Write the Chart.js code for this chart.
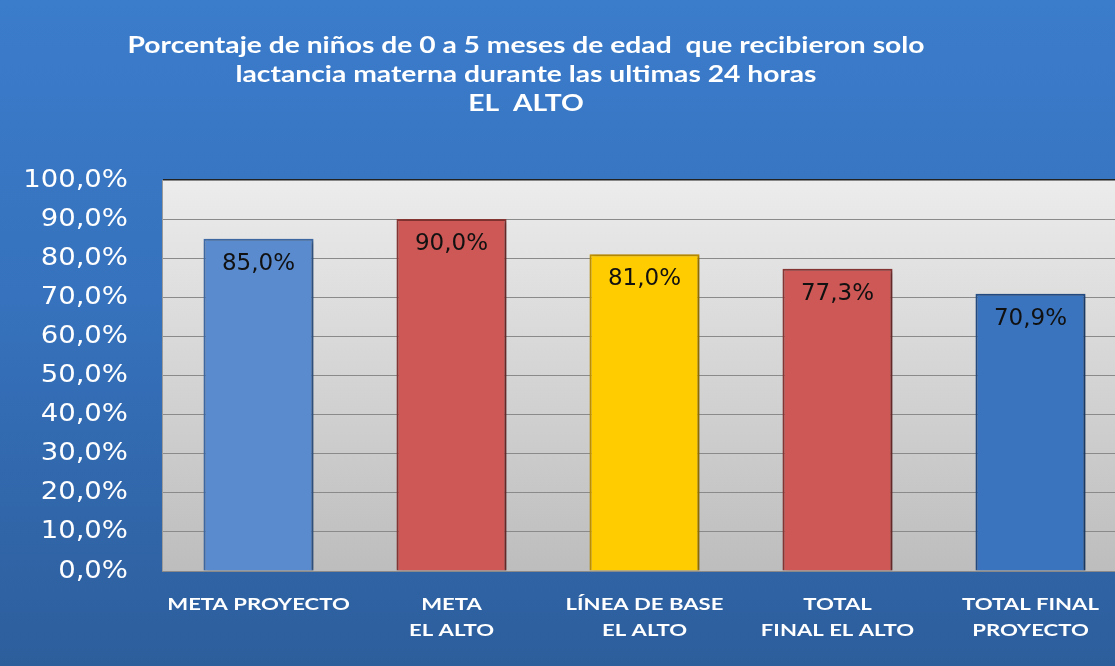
<!DOCTYPE html>
<html>
<head>
<meta charset="utf-8">
<script src="https://cdn.jsdelivr.net/npm/chart.js@4"></script>
<style>
  html, body { margin: 0; padding: 0; overflow: hidden; }
  body {
    width: 1115px; height: 666px;
    background: linear-gradient(to bottom, #3b7ccb 0%, #3672bd 45%, #2d5e9c 100%);
  }
  #wrap { position: absolute; left: 0; top: 0; width: 1127px; height: 666px; }
</style>
</head>
<body>
<div id="wrap"><canvas id="lactanciaChart"></canvas></div>
<script>
// Datos del gráfico
const categories = [
    ['META PROYECTO'],
    ['META', 'EL ALTO'],
    ['LÍNEA DE BASE', 'EL ALTO'],
    ['TOTAL', 'FINAL EL ALTO'],
    ['TOTAL FINAL', 'PROYECTO']
];
const values = [85.0, 90.0, 81.0, 77.3, 70.9];
const yTicks = [0, 10, 20, 30, 40, 50, 60, 70, 80, 90, 100];
const titleLines = [
    'Porcentaje de niños de 0 a 5 meses de edad  que recibieron solo',
    'lactancia materna durante las ultimas 24 horas',
    'EL  ALTO'
];
const barColors = ['#5a8bcf', '#cd5856', '#ffcc00', '#cd5856', '#3a74bf'];
const barBorders = ['#3f6ca8', '#8a3735', '#c49400', '#8a3735', '#244e86'];

function pct(v) {
    return v.toFixed(1).replace('.', ',') + '%';
}

// texto ensanchado horizontalmente (la imagen original está estirada)
function wideText(ctx, text, x, y, sx) {
    ctx.save();
    ctx.translate(x, y);
    ctx.scale(sx, 1);
    ctx.fillText(text, 0, 0);
    ctx.restore();
}

// fondo gris del área de trazado
const plotBackground = {
    id: 'plotBackground',
    beforeDraw(chart) {
        const { ctx, chartArea: a } = chart;
        const g = ctx.createLinearGradient(0, a.top, 0, a.bottom);
        g.addColorStop(0, '#ececec');
        g.addColorStop(1, '#bdbdbd');
        ctx.save();
        ctx.fillStyle = g;
        ctx.fillRect(a.left, a.top, a.right - a.left, a.bottom - a.top);
        ctx.restore();
    }
};

// sombra de las barras
const barShadow = {
    id: 'barShadow',
    beforeDatasetsDraw(chart) {
        const ctx = chart.ctx;
        ctx.save();
        ctx.shadowColor = 'rgba(0, 0, 0, 0.35)';
        ctx.shadowBlur = 4;
        ctx.shadowOffsetX = 2;
        ctx.shadowOffsetY = 1;
    },
    afterDatasetsDraw(chart) {
        chart.ctx.restore();
    }
};

// título, ejes y etiquetas de valor
const textLayer = {
    id: 'textLayer',
    afterDraw(chart) {
        const ctx = chart.ctx;
        const xs = chart.scales.x;
        const ys = chart.scales.y;
        ctx.save();
        ctx.textBaseline = 'middle';

        // título
        ctx.fillStyle = '#ffffff';
        ctx.font = 'bold 22px Lato';
        ctx.textAlign = 'center';
        const sxTitle = 797 / ctx.measureText(titleLines[0]).width;
        titleLines.forEach((t, i) => wideText(ctx, t, 526, 46 + i * 29, sxTitle));

        // categorías
        ctx.font = 'bold 17px Lato';
        categories.forEach((lines, i) => {
            const x = xs.getPixelForValue(i);
            lines.forEach((t, j) => wideText(ctx, t, x, ys.bottom + 34 + j * 26, 1.3));
        });

        // valores del eje y
        ctx.font = '25px "DejaVu Sans"';
        ctx.textAlign = 'right';
        yTicks.forEach(v => wideText(ctx, pct(v), 128, ys.getPixelForValue(v), 1.1));

        // etiquetas de las barras
        ctx.fillStyle = '#111111';
        ctx.font = '23px "DejaVu Sans"';
        ctx.textAlign = 'center';
        chart.getDatasetMeta(0).data.forEach((bar, i) => {
            ctx.fillText(pct(values[i]), bar.x, bar.y + 25);
        });
        ctx.restore();
    }
};

const ctx = document.getElementById('lactanciaChart').getContext('2d');
new Chart(ctx, {
    type: 'bar',
    data: {
        labels: categories,
        datasets: [{
            data: values,
            backgroundColor: barColors,
            borderColor: barBorders,
            borderWidth: 2,
            categoryPercentage: 1,
            barPercentage: 0.57
        }]
    },
    options: {
        responsive: true,
        maintainAspectRatio: false,
        animation: false,
        layout: { padding: { top: 180, left: 0, right: 0, bottom: 0 } },
        plugins: {
            legend: { display: false },
            title: { display: false },
            tooltip: { enabled: false }
        },
        scales: {
            y: {
                min: 0,
                max: 100,
                afterFit(scale) { scale.width = 162; },
                ticks: { stepSize: 10, display: false },
                grid: {
                    drawTicks: false,
                    color: c => c.tick && c.tick.value === 100 ? '#222222' : '#8a8a8a',
                    lineWidth: c => c.tick && c.tick.value === 100 ? 1.5 : 1
                },
                border: { color: '#9a9a9a' }
            },
            x: {
                afterFit(scale) { scale.height = 95; },
                ticks: { display: false },
                grid: { display: false, drawTicks: false },
                border: { color: '#8a8a8a' }
            }
        }
    },
    plugins: [plotBackground, barShadow, textLayer]
});
</script>
</body>
</html>
